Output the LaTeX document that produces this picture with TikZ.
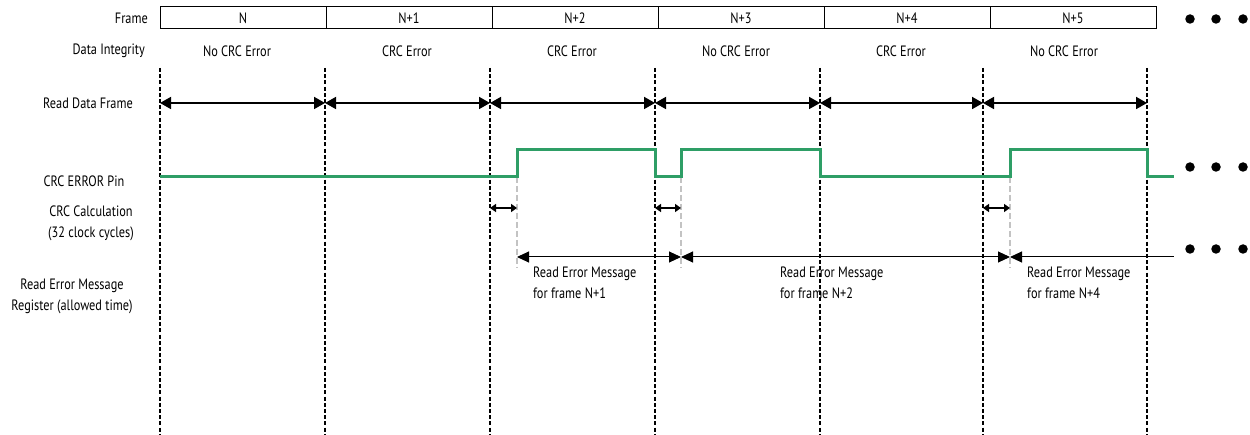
\documentclass[tikz,border=0pt]{standalone}
\usepackage{fontspec}
\setmainfont{PT Sans}[FakeStretch=0.82]
\usetikzlibrary{arrows.meta}
\definecolor{sig}{RGB}{46,158,102}
\definecolor{gline}{RGB}{195,195,195}
\tikzset{
  lbl/.style={font=\fontsize{15}{21}\selectfont, inner sep=0pt},
  framebox/.style={draw, line width=1pt, minimum width=166pt, minimum height=22pt, inner sep=0pt, font=\fontsize{15}{16}\selectfont},
  vdash/.style={line width=1.8pt, dash pattern=on 4pt off 2.2pt},
  gdash/.style={gline, line width=2pt, dash pattern=on 6pt off 3pt},
  sigline/.style={sig, line width=3pt},
  rdf/.style={line width=1.8pt, {Triangle[length=11pt,width=12pt]}-{Triangle[length=11pt,width=12pt]}},
  crc/.style={line width=2.2pt, {Triangle[length=6pt,width=8pt]}-{Triangle[length=6pt,width=8pt]}},
  rem/.style={line width=1pt, {Triangle[length=12pt,width=11pt]}-{Triangle[length=12pt,width=11pt]}},
  remL/.style={line width=1pt, {Triangle[length=12pt,width=11pt]}-},
  bigdot/.style={fill, circle, inner sep=0pt, minimum size=9.5pt}
}
\begin{document}
\begin{tikzpicture}[x=1pt,y=-1pt]
\useasboundingbox (0,0) rectangle (1250,435);
% frame boxes
\foreach \i/\t in {0/N,1/N+1,2/N+2,3/N+3,4/N+4,5/N+5}{
  \node[framebox] (f\i) at ({243+166*\i},18) {\t};
}
% row labels
\node[lbl, anchor=east] (lframe) at (148,18) {Frame};
\node[lbl, anchor=east] (ldi) at (145,51) {Data Integrity};
\node[lbl, anchor=east] (lrdf) at (133,103) {Read Data Frame};
\node[lbl] (lpin) at (84,181) {CRC ERROR Pin};
\node[lbl, align=center] (lcalc) at (91,223) {CRC Calculation\\(32 clock cycles)};
\node[lbl, align=center] (lrem) at (72,296) {Read Error Message\\Register (allowed time)};
% data integrity
\node[lbl] (d0) at (237,51) {No CRC Error};
\node[lbl] (d1) at (407,51) {CRC Error};
\node[lbl] (d2) at (572,51) {CRC Error};
\node[lbl] (d3) at (736,51) {No CRC Error};
\node[lbl] (d4) at (901,51) {CRC Error};
\node[lbl] (d5) at (1064,51) {No CRC Error};
% vertical dashed lines
\foreach \i/\x in {0/160,1/325,2/490,3/655,4/820,5/983,6/1147}{
  \coordinate (vt\i) at (\x,68);
  \coordinate (vb\i) at (\x,435);
  \coordinate (ra\i) at (\x,103);
  \coordinate (ca\i) at (\x,208);
  \draw[vdash] (vt\i) -- (vb\i);
}
% read data frame arrows
\foreach \i [evaluate=\i as \j using int(\i+1)] in {0,...,5}{
  \draw[rdf] (ra\i) -- (ra\j);
}
% green signal
\coordinate (s0) at (160,177);
\coordinate (s1) at (517,177);
\coordinate (s2) at (517,150);
\coordinate (s3) at (655,150);
\coordinate (s4) at (655,177);
\coordinate (s5) at (681,177);
\coordinate (s6) at (681,150);
\coordinate (s7) at (820,150);
\coordinate (s8) at (820,177);
\coordinate (s9) at (1010,177);
\coordinate (s10) at (1010,150);
\coordinate (s11) at (1147,150);
\coordinate (s12) at (1147,177);
\coordinate (s13) at (1174,177);
% gray guide lines
\coordinate (g1b) at (517,268);
\coordinate (g2b) at (681,268);
\coordinate (g3b) at (1010,268);
\draw[gdash] (s1) -- (g1b);
\draw[gdash] (s5) -- (g2b);
\draw[gdash] (s9) -- (g3b);
\draw[sigline, line join=miter] (s0) -- (s1) -- (s2) -- (s3) -- (s4) -- (s5) -- (s6) -- (s7) -- (s8) -- (s9) -- (s10) -- (s11) -- (s12) -- (s13);
% CRC calculation arrows
\coordinate (c1) at (517,208);
\coordinate (c2) at (681,208);
\coordinate (c3) at (1010,208);
\draw[crc] (ca2) -- (c1);
\draw[crc] (ca3) -- (c2);
\draw[crc] (ca5) -- (c3);
% read error message arrows
\coordinate (r1) at (517,257);
\coordinate (r2) at (681,257);
\coordinate (r3) at (1010,257);
\coordinate (r4) at (1174,257);
\draw[rem] (r1) -- (r2);
\draw[rem] (r2) -- (r3);
\draw[remL] (r3) -- (r4);
\node[lbl, anchor=north west, align=left] (m1) at (533,267) {Read Error Message\\for frame N+1};
\node[lbl, anchor=north west, align=left] (m2) at (780,267) {Read Error Message\\for frame N+2};
\node[lbl, anchor=north west, align=left] (m3) at (1027,267) {Read Error Message\\for frame N+4};
% continuation dots
\foreach \r/\y in {a/19,b/167,c/249}{
  \foreach \k/\x in {1/1190,2/1216,3/1243}{
    \node[bigdot] (dot\r\k) at (\x,\y) {};
  }
}
\end{tikzpicture}
\end{document}
